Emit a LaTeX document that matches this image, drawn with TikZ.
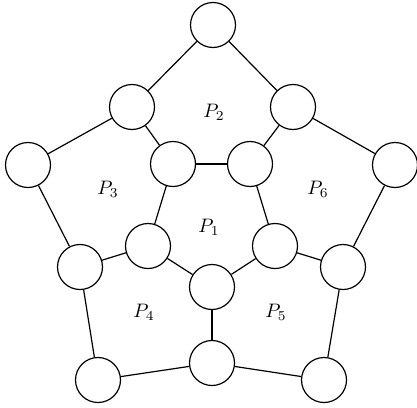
\documentclass[tikz,border=0pt]{standalone}
\usepackage{graphicx}
\begin{document}
\begin{tikzpicture}[x=1pt,y=-1pt,
  vtx/.style={draw,circle,minimum size=45pt,inner sep=0pt,line width=1.2pt,fill=white},
  edge/.style={line width=1.2pt},
  lbl/.style={inner sep=0pt}]
\newcommand{\plbl}[1]{\scalebox{1.95}{$P_{#1}$}}
\useasboundingbox (0,0) rectangle (417,407);
\node[vtx] (T) at (213,25) {};
\node[vtx] (UL) at (132,107) {};
\node[vtx] (UR) at (293,107) {};
\node[vtx] (L) at (28,165) {};
\node[vtx] (R) at (395,165) {};
\node[vtx] (a) at (173,164) {};
\node[vtx] (b) at (250,164) {};
\node[vtx] (c) at (148,246) {};
\node[vtx] (d) at (275,246) {};
\node[vtx] (e) at (212,287) {};
\node[vtx] (LM) at (80,267) {};
\node[vtx] (RM) at (343,267) {};
\node[vtx] (BC) at (212,363) {};
\node[vtx] (BL) at (98,380) {};
\node[vtx] (BR) at (324,380) {};
\foreach \u/\v in {T/UL,T/UR,UL/L,UL/a,UR/R,UR/b,a/b,a/c,b/d,L/LM,R/RM,c/LM,d/RM,c/e,d/e,e/BC,LM/BL,RM/BR,BL/BC,BC/BR}
  \draw[edge] (\u) -- (\v);
\node[lbl] (p2) at (214,112) {\plbl{2}};
\node[lbl] (p3) at (108,189) {\plbl{3}};
\node[lbl] (p6) at (318,189) {\plbl{6}};
\node[lbl] (p1) at (209,227) {\plbl{1}};
\node[lbl] (p4) at (144,312) {\plbl{4}};
\node[lbl] (p5) at (276,312) {\plbl{5}};
\end{tikzpicture}
\end{document}
